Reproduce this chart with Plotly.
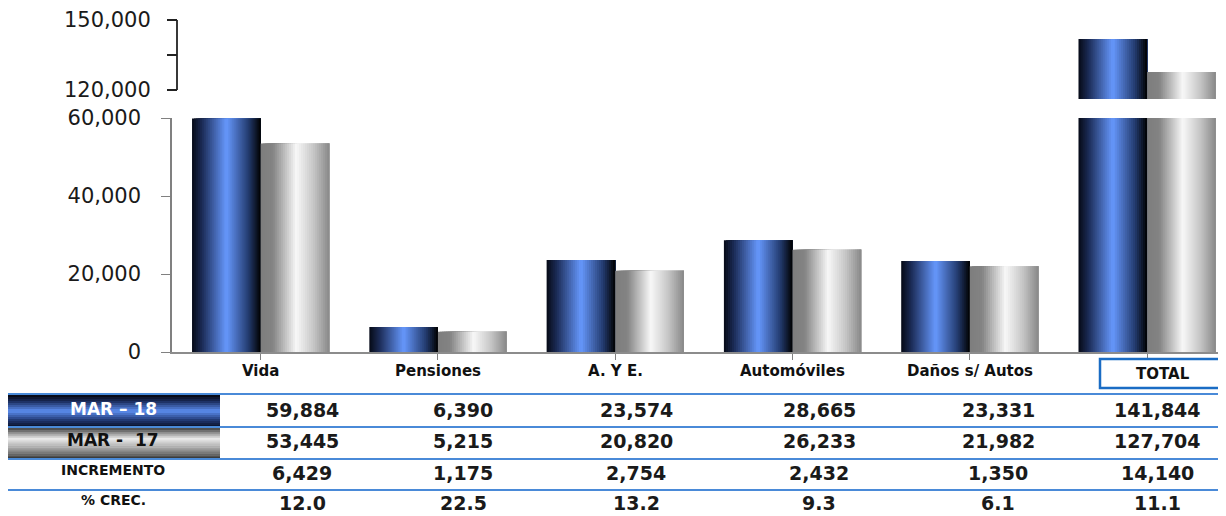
import plotly.graph_objects as go

CATEGORIES = ["Vida", "Pensiones", "A. Y E.", "Automóviles", "Daños s/ Autos", "TOTAL"]
MAR_18 = [59884, 6390, 23574, 28665, 23331, 141844]
MAR_17 = [53445, 5215, 20820, 26233, 21982, 127704]
INCREMENTO = [6429, 1175, 2754, 2432, 1350, 14140]
CRECIMIENTO = [12.0, 22.5, 13.2, 9.3, 6.1, 11.1]
ROW_LABELS = ["MAR \u2013 18", "MAR -  17", "INCREMENTO", "% CREC."]
LOWER_TICKS = [0, 20000, 40000, 60000]
LOWER_TICKTEXT = ["0", "20,000", "40,000", "60,000"]
UPPER_TICKS = [120000, 135000, 150000]
UPPER_TICKTEXT = ["120,000", "", "150,000"]

# the page body adds an 8 px margin, so the figure is drawn 8 px smaller
OFF = 8
W, H = 1226 - OFF, 516 - OFF
BLUE_STOPS = [(0, (6, 10, 22)), (0.15, (28, 44, 88)), (0.5, (102, 152, 252)),
              (0.82, (36, 60, 112)), (1, (0, 0, 0))]
GREY_STOPS = [(0, (126, 126, 126)), (0.18, (132, 132, 132)), (0.52, (248, 248, 248)),
              (0.78, (196, 196, 196)), (1, (136, 136, 136))]
CELL_BLUE = [(0, (4, 4, 12)), (0.2, (26, 44, 92)), (0.5, (92, 142, 240)),
             (0.8, (30, 52, 108)), (1, (10, 16, 38))]
CELL_GREY = [(0, (66, 66, 66)), (0.35, (236, 236, 236)), (0.7, (150, 150, 150)),
             (1, (48, 48, 48))]
LINE_BLUE = "#4a8ad8"
BOLD = "DejaVu Sans"


def px(x):
    return (x - OFF) / W


def py(y):
    return 1 - (y - OFF) / H


def ramp(stops, t):
    for (t0, c0), (t1, c1) in zip(stops, stops[1:]):
        if t <= t1:
            f = (t - t0) / (t1 - t0) if t1 > t0 else 0
            c = [round(a + (b - a) * f) for a, b in zip(c0, c1)]
            return f"rgb({c[0]},{c[1]},{c[2]})"
    c = stops[-1][1]
    return f"rgb({c[0]},{c[1]},{c[2]})"


fig = go.Figure()

# gradient bars: overlapping stripes, each running to the bar's right edge
BAR_W = 0.387
N = 34
for values, start, stops in ((MAR_18, -BAR_W, BLUE_STOPS), (MAR_17, 0.0, GREY_STOPS)):
    step = BAR_W / N
    for yax in ("y", "y2"):
        for i in range(N):
            fig.add_trace(
                go.Bar(
                    x=list(range(len(CATEGORIES))),
                    y=values,
                    xaxis="x",
                    yaxis=yax,
                    offset=start + i * step,
                    width=BAR_W - i * step,
                    marker={"color": ramp(stops, (i + 0.5) / N), "line": {"width": 0}},
                    showlegend=False,
                    hoverinfo="skip",
                )
            )

tick_font = {"family": "DejaVu Sans", "size": 21, "color": "#1a1a1a"}
fig.update_layout(
    width=W,
    height=H,
    autosize=False,
    margin={"l": 0, "r": 0, "t": 0, "b": 0, "pad": 0, "autoexpand": False},
    paper_bgcolor="white",
    plot_bgcolor="white",
    barmode="overlay",
    xaxis={
        "domain": [px(172), 1],
        "range": [-0.5, 5.445],
        "showticklabels": False,
        "ticks": "outside",
        "tickson": "boundaries",
        "ticklen": 6,
        "tickcolor": "#808080",
        "tickvals": list(range(len(CATEGORIES))),
        "showline": True,
        "linecolor": "#8c8c8c",
        "linewidth": 1.5,
        "showgrid": False,
        "zeroline": False,
    },
    yaxis={
        "domain": [py(352), py(118)],
        "range": [0, 60000],
        "tickvals": LOWER_TICKS,
        "ticktext": LOWER_TICKTEXT,
        "ticks": "outside",
        "ticklen": 9,
        "ticklabelstandoff": 16,
        "tickcolor": "#808080",
        "tickfont": tick_font,
        "showline": True,
        "linecolor": "#808080",
        "linewidth": 1.5,
        "showgrid": False,
        "zeroline": False,
    },
    yaxis2={
        "domain": [py(99), py(20)],
        "range": [116143, 150000],
        "anchor": "free",
        "position": px(177),
        "tickvals": UPPER_TICKS,
        "ticktext": UPPER_TICKTEXT,
        "ticks": "outside",
        "ticklen": 10,
        "ticklabelstandoff": 12,
        "tickwidth": 1.5,
        "tickcolor": "#222222",
        "tickfont": tick_font,
        "showline": False,
        "showgrid": False,
        "zeroline": False,
    },
)

shapes = [
    # upper axis segment (120,000 - 150,000 only)
    {"type": "line", "xref": "paper", "yref": "y2", "x0": px(177), "x1": px(177),
     "y0": UPPER_TICKS[0], "y1": UPPER_TICKS[-1], "line": {"color": "#222222", "width": 1.8}},
    # TOTAL header box, running off the right edge
    {"type": "rect", "xref": "paper", "yref": "paper", "x0": px(1100), "x1": px(1300),
     "y0": py(388), "y1": py(359), "line": {"color": "#1a6cc4", "width": 2.5}},
]

# gradient label cells
for (top, bottom), stops in (((395, 427), CELL_BLUE), ((428, 459), CELL_GREY)):
    n = 16
    h = (bottom - top) / n
    for i in range(n):
        shapes.append(
            {"type": "rect", "xref": "paper", "yref": "paper", "x0": px(7), "x1": px(220),
             "y0": py(top + (i + 1) * h + 0.4), "y1": py(top + i * h),
             "line": {"width": 0}, "fillcolor": ramp(stops, (i + 0.5) / n), "layer": "below"}
        )

for y in (394, 427, 459, 490):
    shapes.append(
        {"type": "line", "xref": "paper", "yref": "paper", "x0": px(6), "x1": 1,
         "y0": py(y), "y1": py(y), "line": {"color": LINE_BLUE, "width": 2}}
    )
fig.update_layout(shapes=shapes)

annotations = []
head_font = {"family": BOLD, "size": 15, "color": "#111111", "weight": "bold"}
for i, name in enumerate(CATEGORIES):
    if name == "TOTAL":
        annotations.append(
            {"x": i, "xref": "x", "xshift": 16, "y": py(374), "yref": "paper",
             "text": name, "showarrow": False, "font": head_font,
             "xanchor": "center", "yanchor": "middle"}
        )
    else:
        annotations.append(
            {"x": i, "xref": "x", "y": py(371), "yref": "paper",
             "text": name, "showarrow": False, "font": head_font,
             "xanchor": "center", "yanchor": "middle"}
        )

ROW_Y = [410, 441, 473, 503]
COL_X = [302, 463, 636, 819, 998, 1157]
val_font = {"family": BOLD, "size": 19, "color": "#1a1a1a", "weight": "bold"}
rows = [
    [f"{v:,}" for v in MAR_18],
    [f"{v:,}" for v in MAR_17],
    [f"{v:,}" for v in INCREMENTO],
    [f"{v:.1f}" for v in CRECIMIENTO],
]
for r, (label, vals) in enumerate(zip(ROW_LABELS, rows)):
    big = r < 2
    annotations.append(
        {"x": px(113), "xref": "paper", "y": py(ROW_Y[r] - (1 if big else 3)), "yref": "paper",
         "text": label, "showarrow": False,
         "font": {"family": BOLD, "size": 17 if big else 14,
                  "color": "white" if r == 0 else "#111111", "weight": "bold"},
         "xanchor": "center", "yanchor": "middle"}
    )
    for c, text in enumerate(vals):
        annotations.append(
            {"x": px(COL_X[c]), "xref": "paper", "y": py(ROW_Y[r]), "yref": "paper",
             "text": text, "showarrow": False, "font": val_font,
             "xanchor": "center", "yanchor": "middle"}
        )
fig.update_layout(annotations=annotations)

fig.write_html("out.html")
